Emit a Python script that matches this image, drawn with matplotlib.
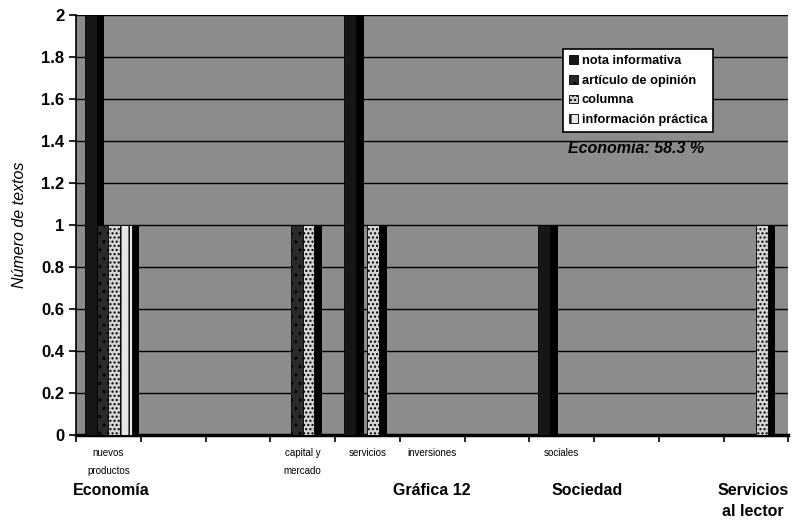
import matplotlib.pyplot as plt
import matplotlib.transforms as mtransforms
import numpy as np

plt.rcParams['font.family'] = ['Liberation Sans', 'DejaVu Sans']

# 11 sub-categories along the x axis (only some are labelled)
subcats = ['nuevos\nproductos', '', '', 'capital y\nmercado', 'servicios',
           'inversiones', '', 'sociales', '', '', '']
series = ['nota informativa', 'artículo de opinión', 'columna', 'información práctica']
nota = [2, 0, 0, 0, 2, 0, 0, 1, 0, 0, 0]
articulo = [1, 0, 0, 1, 0, 0, 0, 0, 0, 0, 0]
columna = [1, 0, 0, 1, 1, 0, 0, 0, 0, 0, 1]
info = [1, 0, 0, 0, 0, 0, 0, 0, 0, 0, 0]
groups = ['Economía', 'Gráfica 12', 'Sociedad', 'Servicios\nal lector']
group_x = [0.55, 5.5, 7.9, 10.45]
note = 'Economía: 58.3 %'

values = [nota, articulo, columna, info]
fronts = ['#161616', '#2a2a2a', '#d4d4d4', '#e6e6e6']
hatches = [None, '..', '....', '||']

fig = plt.figure(figsize=(7.95, 5.23), dpi=100)
ax = fig.add_axes([0.0956, 0.168, 0.896, 0.803])
ax.set_facecolor('#8c8c8c')

x = np.arange(len(subcats))
w = 0.18
off = 0.14
handles = []
for k, vals in enumerate(values):
    left = x + off + k * w
    # darker side face, gives the old 3-D look
    ax.bar(left + w, vals, width=0.12, align='edge', color='black', zorder=2)
    b = ax.bar(left, vals, width=w, align='edge', color=fronts[k],
               hatch=hatches[k], edgecolor='black', linewidth=0.6, zorder=3)
    handles.append(b)

ax.set_xlim(0, len(subcats))
ax.set_ylim(0, 2)
ax.set_yticks(np.arange(0, 2.01, 0.2))
ax.set_yticklabels(['0', '0.2', '0.4', '0.6', '0.8', '1', '1.2', '1.4', '1.6', '1.8', '2'],
                   fontsize=12, fontweight='bold')
ax.set_xticks(np.arange(0, len(subcats) + 1))
ax.set_xticklabels([])
ax.tick_params(axis='both', direction='out', length=5, width=1.2, color='black')
ax.yaxis.grid(True, color='black', linewidth=1)
ax.set_axisbelow(True)
for s in ['top', 'right']:
    ax.spines[s].set_visible(False)
ax.spines['left'].set_linewidth(1.2)
ax.spines['bottom'].set_linewidth(2.5)

ax.set_ylabel('Número de textos', fontsize=11.5, style='italic', labelpad=10)

trans = mtransforms.blended_transform_factory(ax.transData, ax.transAxes)
for i, lab in enumerate(subcats):
    if lab:
        ax.text(i + 0.5, -0.03, lab, transform=trans, ha='center', va='top',
                fontsize=7, linespacing=2.0)
for gx, g in zip(group_x, groups):
    ax.text(gx, -0.115, g, transform=trans, ha='center', va='top',
            fontsize=11.5, fontweight='bold', linespacing=1.5)

leg = ax.legend([h[0] for h in handles], series, loc='upper left',
                bbox_to_anchor=(0.675, 0.935), fancybox=False, framealpha=1,
                edgecolor='black', handlelength=0.7, handleheight=0.7,
                handletextpad=0.3, labelspacing=0.62, borderpad=0.45,
                prop={'size': 9.2, 'weight': 'bold'})
leg.get_frame().set_linewidth(1.2)

ax.text(0.69, 0.683, note, transform=ax.transAxes, ha='left', va='center',
        fontsize=11.5, style='italic', fontweight='bold')

fig.savefig('out.png', dpi=100)
